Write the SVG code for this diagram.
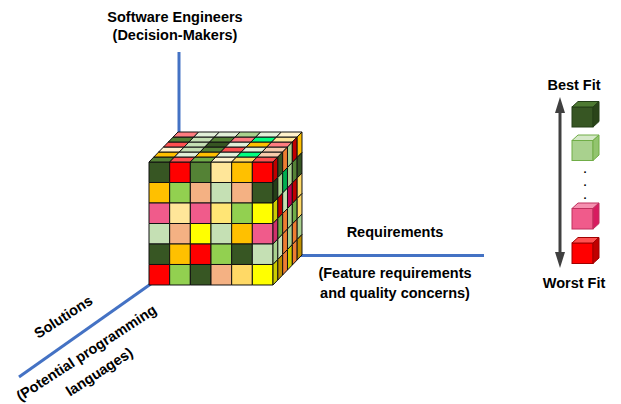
<svg xmlns="http://www.w3.org/2000/svg" width="621" height="404" viewBox="0 0 621 404">
<style>
text{font-family:"Liberation Sans",Arial,sans-serif;font-weight:bold;font-size:14.5px;fill:#000}
.m{text-anchor:middle}
.dot{font-size:11px}
.ax{stroke:#4472C4;stroke-width:3;fill:none}
.cell rect{stroke:#111;stroke-width:1;vector-effect:non-scaling-stroke}
</style>
<rect width="621" height="404" fill="#fff"/>
<g id="connectors">
<line class="ax" x1="179" y1="52" x2="179" y2="256"/>
<line class="ax" x1="179" y1="255.5" x2="484" y2="255.5"/>
<line class="ax" x1="155" y1="281" x2="19" y2="377"/>
</g>
<g id="cube">
<g class="cell" transform="matrix(20.667 0 0 20.5 149 162)">
<rect x="0" y="0" width="1" height="1" fill="#375623"/><rect x="1" y="0" width="1" height="1" fill="#FF0000"/><rect x="2" y="0" width="1" height="1" fill="#548235"/><rect x="3" y="0" width="1" height="1" fill="#FFE699"/><rect x="4" y="0" width="1" height="1" fill="#FFC000"/><rect x="5" y="0" width="1" height="1" fill="#FF0000"/>
<rect x="0" y="1" width="1" height="1" fill="#FFC000"/><rect x="1" y="1" width="1" height="1" fill="#92D050"/><rect x="2" y="1" width="1" height="1" fill="#F4B183"/><rect x="3" y="1" width="1" height="1" fill="#C5E0B4"/><rect x="4" y="1" width="1" height="1" fill="#F4B183"/><rect x="5" y="1" width="1" height="1" fill="#375623"/>
<rect x="0" y="2" width="1" height="1" fill="#F05B8B"/><rect x="1" y="2" width="1" height="1" fill="#FFE699"/><rect x="2" y="2" width="1" height="1" fill="#F05B8B"/><rect x="3" y="2" width="1" height="1" fill="#FFE575"/><rect x="4" y="2" width="1" height="1" fill="#92D050"/><rect x="5" y="2" width="1" height="1" fill="#FFFF00"/>
<rect x="0" y="3" width="1" height="1" fill="#C5E0B4"/><rect x="1" y="3" width="1" height="1" fill="#F4B183"/><rect x="2" y="3" width="1" height="1" fill="#FFFF00"/><rect x="3" y="3" width="1" height="1" fill="#C5E0B4"/><rect x="4" y="3" width="1" height="1" fill="#FFC000"/><rect x="5" y="3" width="1" height="1" fill="#F05B8B"/>
<rect x="0" y="4" width="1" height="1" fill="#375623"/><rect x="1" y="4" width="1" height="1" fill="#FFC000"/><rect x="2" y="4" width="1" height="1" fill="#FF0000"/><rect x="3" y="4" width="1" height="1" fill="#92D050"/><rect x="4" y="4" width="1" height="1" fill="#375623"/><rect x="5" y="4" width="1" height="1" fill="#C5E0B4"/>
<rect x="0" y="5" width="1" height="1" fill="#FF0000"/><rect x="1" y="5" width="1" height="1" fill="#92D050"/><rect x="2" y="5" width="1" height="1" fill="#375623"/><rect x="3" y="5" width="1" height="1" fill="#F4B183"/><rect x="4" y="5" width="1" height="1" fill="#FFD966"/><rect x="5" y="5" width="1" height="1" fill="#FFFF00"/>
</g>
<g class="cell" transform="matrix(20.667 0 4.833 -5 149 162)">
<rect x="0" y="0" width="1" height="1" fill="#548235"/><rect x="1" y="0" width="1" height="1" fill="#FF5050"/><rect x="2" y="0" width="1" height="1" fill="#70AD47"/><rect x="3" y="0" width="1" height="1" fill="#FFF2CC"/><rect x="4" y="0" width="1" height="1" fill="#FFD966"/><rect x="5" y="0" width="1" height="1" fill="#FF5050"/>
<rect x="0" y="1" width="1" height="1" fill="#FFC000"/><rect x="1" y="1" width="1" height="1" fill="#E2F0D9"/><rect x="2" y="1" width="1" height="1" fill="#FFC000"/><rect x="3" y="1" width="1" height="1" fill="#E2F0D9"/><rect x="4" y="1" width="1" height="1" fill="#00FF80"/><rect x="5" y="1" width="1" height="1" fill="#F8CBAD"/>
<rect x="0" y="2" width="1" height="1" fill="#FFF2CC"/><rect x="1" y="2" width="1" height="1" fill="#C5E0B4"/><rect x="2" y="2" width="1" height="1" fill="#548235"/><rect x="3" y="2" width="1" height="1" fill="#FF5050"/><rect x="4" y="2" width="1" height="1" fill="#E2F0D9"/><rect x="5" y="2" width="1" height="1" fill="#F8CBAD"/>
<rect x="0" y="3" width="1" height="1" fill="#FF5050"/><rect x="1" y="3" width="1" height="1" fill="#C5E0B4"/><rect x="2" y="3" width="1" height="1" fill="#375623"/><rect x="3" y="3" width="1" height="1" fill="#E2F0D9"/><rect x="4" y="3" width="1" height="1" fill="#FFC000"/><rect x="5" y="3" width="1" height="1" fill="#FF7C80"/>
<rect x="0" y="4" width="1" height="1" fill="#548235"/><rect x="1" y="4" width="1" height="1" fill="#C5E0B4"/><rect x="2" y="4" width="1" height="1" fill="#548235"/><rect x="3" y="4" width="1" height="1" fill="#FF7C80"/><rect x="4" y="4" width="1" height="1" fill="#00FF80"/><rect x="5" y="4" width="1" height="1" fill="#FFE699"/>
<rect x="0" y="5" width="1" height="1" fill="#FF7C80"/><rect x="1" y="5" width="1" height="1" fill="#E2F0D9"/><rect x="2" y="5" width="1" height="1" fill="#E2F0D9"/><rect x="3" y="5" width="1" height="1" fill="#A9D18E"/><rect x="4" y="5" width="1" height="1" fill="#E2F0D9"/><rect x="5" y="5" width="1" height="1" fill="#FFF2CC"/>
</g>
<g class="cell" transform="matrix(4.833 -5 0 20.5 273 162)">
<rect x="0" y="0" width="1" height="1" fill="#C00000"/><rect x="1" y="0" width="1" height="1" fill="#375623"/><rect x="2" y="0" width="1" height="1" fill="#ED7D31"/><rect x="3" y="0" width="1" height="1" fill="#A9D18E"/><rect x="4" y="0" width="1" height="1" fill="#C00000"/><rect x="5" y="0" width="1" height="1" fill="#FFC000"/>
<rect x="0" y="1" width="1" height="1" fill="#243F17"/><rect x="1" y="1" width="1" height="1" fill="#A9D18E"/><rect x="2" y="1" width="1" height="1" fill="#00B050"/><rect x="3" y="1" width="1" height="1" fill="#A9D18E"/><rect x="4" y="1" width="1" height="1" fill="#548235"/><rect x="5" y="1" width="1" height="1" fill="#375623"/>
<rect x="0" y="2" width="1" height="1" fill="#CCCC00"/><rect x="1" y="2" width="1" height="1" fill="#C00000"/><rect x="2" y="2" width="1" height="1" fill="#C5E0B4"/><rect x="3" y="2" width="1" height="1" fill="#C0004F"/><rect x="4" y="2" width="1" height="1" fill="#C00000"/><rect x="5" y="2" width="1" height="1" fill="#FFD966"/>
<rect x="0" y="3" width="1" height="1" fill="#D0306A"/><rect x="1" y="3" width="1" height="1" fill="#70AD47"/><rect x="2" y="3" width="1" height="1" fill="#ED7D31"/><rect x="3" y="3" width="1" height="1" fill="#A9D18E"/><rect x="4" y="3" width="1" height="1" fill="#70AD47"/><rect x="5" y="3" width="1" height="1" fill="#FFD966"/>
<rect x="0" y="4" width="1" height="1" fill="#A9D18E"/><rect x="1" y="4" width="1" height="1" fill="#C5E0B4"/><rect x="2" y="4" width="1" height="1" fill="#ED7D31"/><rect x="3" y="4" width="1" height="1" fill="#A9D18E"/><rect x="4" y="4" width="1" height="1" fill="#ED7D31"/><rect x="5" y="4" width="1" height="1" fill="#A9D18E"/>
<rect x="0" y="5" width="1" height="1" fill="#CCCC00"/><rect x="1" y="5" width="1" height="1" fill="#BF9000"/><rect x="2" y="5" width="1" height="1" fill="#ED7D31"/><rect x="3" y="5" width="1" height="1" fill="#CCCC00"/><rect x="4" y="5" width="1" height="1" fill="#ED7D31"/><rect x="5" y="5" width="1" height="1" fill="#BF9000"/>
</g>
</g>
<g id="label-engineers">
<text class="m" x="175" y="22">Software Engineers</text>
<text class="m" x="175" y="39.5">(Decision-Makers)</text>
</g>
<g id="label-requirements">
<text class="m" x="395" y="237">Requirements</text>
<text class="m" x="395" y="278">(Feature requirements</text>
<text class="m" x="395" y="298">and quality concerns)</text>
</g>
<g id="label-solutions">
<text class="m" transform="translate(66 321) rotate(-33)">Solutions</text>
<text class="m" transform="translate(89 357) rotate(-33)">(Potential programming</text>
<text class="m" transform="translate(102 376) rotate(-33)">languages)</text>
</g>
<g id="legend">
<text class="m" x="574" y="90">Best Fit</text>
<text class="m" x="574" y="288">Worst Fit</text>
<line x1="560" y1="108" x2="560" y2="256" stroke="#404040" stroke-width="3"/>
<polygon points="560,97 555,113 565,113" fill="#404040"/>
<polygon points="560,268 555,252 565,252" fill="#404040"/>
<g id="cube-best">
<rect x="572" y="107" width="21" height="20" fill="#375623" stroke="#243F17"/>
<polygon points="572,107 578,101.5 599,101.5 593,107" fill="#4E7A32" stroke="#243F17"/>
<polygon points="593,107 599,101.5 599,121.5 593,127" fill="#2A4419" stroke="#243F17"/>
</g>
<g id="cube-good">
<rect x="572" y="140.5" width="21" height="20" fill="#A9D18E" stroke="#70AD47"/>
<polygon points="572,140.5 578,135 599,135 593,140.5" fill="#D5E8C8" stroke="#70AD47"/>
<polygon points="593,140.5 599,135 599,155 593,160.5" fill="#92C46E" stroke="#70AD47"/>
</g>
<text class="m dot" x="585" y="173">.</text>
<text class="m dot" x="585" y="186">.</text>
<text class="m dot" x="585" y="199">.</text>
<g id="cube-poor">
<rect x="572" y="208.5" width="21" height="20.5" fill="#F05B8B" stroke="#C0305E"/>
<polygon points="572,208.5 578,203 599,203 593,208.5" fill="#F590B0" stroke="#C0305E"/>
<polygon points="593,208.5 599,203 599,223.5 593,229" fill="#D81B60" stroke="#C0305E"/>
</g>
<g id="cube-worst">
<rect x="572" y="243" width="21" height="20.5" fill="#FF0000" stroke="#A00000"/>
<polygon points="572,243 578,237.5 599,237.5 593,243" fill="#FF5050" stroke="#A00000"/>
<polygon points="593,243 599,237.5 599,258 593,263.5" fill="#C00000" stroke="#A00000"/>
</g>
</g>
</svg>
